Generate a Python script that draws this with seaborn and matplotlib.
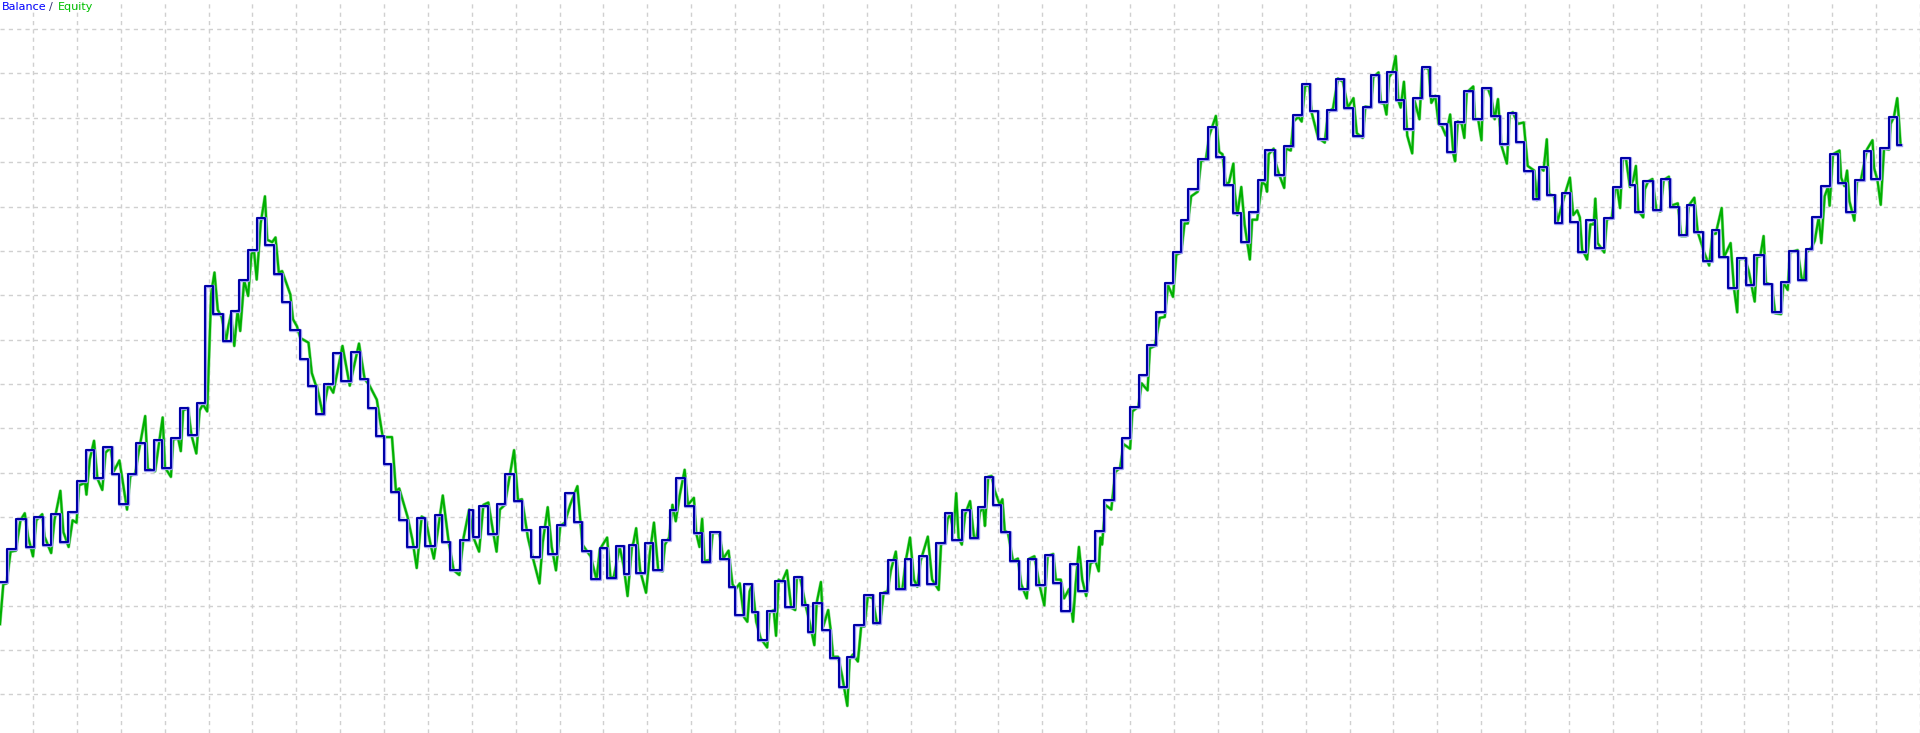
import numpy as np
import pandas as pd
import matplotlib
import matplotlib.pyplot as plt
import seaborn as sns
from matplotlib.transforms import IdentityTransform

# tester graph, units (x: deal axis, y: account value)
bal_x = [0, 22, 50, 78, 103, 130, 155, 183, 207, 232, 260, 286, 312, 338, 362, 388, 413, 440, 468, 492,
         518, 545, 570, 597, 622, 645, 676, 700, 725, 752, 778, 802, 830, 855, 880, 908, 933, 958,
         982, 1010, 1032, 1065, 1090, 1115, 1140, 1165, 1185, 1210, 1235, 1263, 1288, 1317, 1340, 1365,
         1393, 1420, 1435, 1453, 1478, 1505, 1532, 1557, 1582, 1610, 1637, 1660, 1687, 1713, 1740, 1765,
         1790, 1817, 1840, 1868, 1892, 1905,
         1928, 1955, 1980, 2005, 2030, 2050, 2075, 2102, 2127, 2153, 2182, 2208, 2228, 2255, 2280, 2298,
         2325, 2350, 2380, 2405, 2430, 2448, 2465, 2490, 2515, 2542, 2567, 2588, 2620, 2645, 2668, 2690,
         2715, 2742, 2760, 2785, 2810, 2837, 2863,
         2885, 2915, 2940, 2965, 2985, 3008, 3035, 3060, 3088, 3115, 3140, 3167, 3192, 3215, 3242, 3267,
         3295, 3320, 3345, 3375, 3400, 3425, 3452, 3477, 3503, 3530, 3555, 3580, 3602, 3632, 3660, 3685,
         3710, 3737, 3762, 3785, 3813, 3835,
         3865, 3890, 3918, 3945, 3970, 3995, 4023, 4048, 4073, 4102, 4130, 4155, 4180, 4205, 4230, 4255,
         4283, 4310, 4335, 4362, 4385, 4410, 4438, 4465, 4492, 4520, 4545, 4570, 4595, 4620, 4645, 4665,
         4688, 4712, 4733, 4758, 4782,
         4808, 4835, 4862, 4890, 4912, 4940, 4955, 4980, 5010, 5035, 5060, 5088, 5113, 5135, 5162, 5188,
         5210, 5238, 5265, 5293, 5315, 5345, 5370, 5397, 5422, 5450, 5472, 5492, 5518, 5545, 5570, 5595,
         5622, 5648, 5672, 5697, 5725, 5750, 5760]
balance = [323, 393, 458, 398, 463, 403, 468, 408, 473, 538, 606, 546, 611, 553, 490, 553, 620, 563, 626, 566,
           631, 696, 638, 706, 956, 896, 838, 903, 968, 1033, 1101, 1043, 982, 921, 863, 800, 743, 683,
           746, 813, 753, 816, 758, 696, 636, 576, 516, 456, 398, 460, 400, 466, 408, 348,
           412, 478, 420, 485, 425, 490, 555, 496, 435, 376, 440, 383, 446, 513, 452, 390,
           330, 395, 332, 400, 340, 403,
           343, 406, 348, 413, 478, 545, 486, 428, 366, 430, 373, 313, 253, 318, 258, 198,
           262, 326, 270, 333, 273, 215, 278, 220, 160, 98, 163, 230, 296, 236, 300, 370,
           308, 373, 316, 378, 318, 406, 470,
           413, 478, 418, 483, 548, 488, 430, 368, 308, 373, 316, 380, 320, 261, 361, 303,
           368, 433, 498, 566, 630, 698, 765, 830, 900, 963, 1030, 1098, 1163, 1228, 1296, 1233,
           1173, 1113, 1050, 1115, 1183, 1248,
           1193, 1255, 1323, 1388, 1330, 1270, 1333, 1400, 1338, 1278, 1340, 1408, 1350, 1413, 1355, 1293,
           1358, 1425, 1363, 1303, 1243, 1308, 1373, 1313, 1380, 1320, 1260, 1326, 1265, 1203, 1143, 1210,
           1150, 1090, 1156, 1093, 1030,
           1098, 1038, 1102, 1168, 1231, 1173, 1115, 1180, 1118, 1186, 1126, 1066, 1130, 1072, 1010, 1075,
           1018, 951, 1016, 958, 1022, 961, 900, 964, 1031, 970, 1035, 1103, 1170, 1238, 1176, 1115,
           1182, 1246, 1186, 1252, 1318, 1258, 1258]

eq_x = [0, 10, 20, 32, 48, 62, 75, 85, 100, 110, 128, 135, 155, 165, 183, 192, 208, 220, 232, 240,
        258, 262, 272, 285, 295, 310, 320, 335, 345, 362, 385, 395, 410, 420, 440, 448, 470, 482, 493, 500,
        518, 525, 540, 548, 555, 570, 580, 595, 605, 615, 628, 640, 650, 660, 672, 685, 692, 700, 710, 720,
        728, 740, 752, 762, 770, 778, 790, 803, 810, 825, 835, 845, 855, 880, 888, 900, 910, 935, 945, 958,
        960, 978, 995, 1010, 1038, 1060, 1088, 1105, 1120, 1142, 1160, 1188, 1200, 1210, 1235, 1250, 1263,
        1278, 1290, 1305, 1315, 1342, 1360, 1375, 1392, 1405, 1422, 1435, 1452, 1465, 1480, 1495, 1505,
        1515, 1530, 1558, 1570, 1582, 1600, 1610, 1635, 1645, 1660, 1672, 1685, 1698, 1712, 1728, 1750,
        1765, 1780, 1790, 1808, 1818, 1840, 1850, 1860, 1878, 1890, 1902, 1915,
        1920, 1928, 1940, 1958, 1970, 1982, 1995, 2008, 2015, 2028, 2038, 2048, 2060, 2075, 2085, 2103,
        2110, 2120, 2128, 2135, 2152, 2160, 2180, 2192, 2208, 2220, 2230, 2242, 2255, 2265, 2272, 2280,
        2292, 2305, 2325, 2332, 2345, 2352, 2360, 2370, 2385, 2398, 2410, 2415, 2425, 2440, 2455, 2468,
        2475, 2488, 2495, 2510, 2518, 2525, 2540, 2552, 2568, 2575, 2585, 2600, 2610, 2620, 2630, 2645,
        2658, 2668, 2678, 2690, 2700, 2715, 2725, 2735, 2745, 2758, 2770, 2780, 2790, 2812, 2825, 2845,
        2852, 2865, 2872, 2880,
        2890, 2898, 2905, 2915, 2925, 2940, 2952, 2960, 2970, 2980, 2985, 2995, 3005, 3015, 3030, 3038,
        3045, 3055, 3070, 3085, 3095, 3112, 3120, 3135, 3150, 3165, 3175, 3192, 3200, 3215, 3225, 3240,
        3252, 3260, 3270, 3280, 3292, 3305, 3320, 3330, 3335, 3340, 3350, 3368, 3380, 3395, 3405, 3425,
        3432, 3450, 3460, 3478, 3485, 3500, 3515, 3530, 3540, 3555, 3565, 3580, 3590, 3600, 3610, 3630,
        3640, 3655, 3665, 3685, 3695, 3705, 3715, 3725, 3738, 3742, 3750, 3762, 3772, 3788, 3795, 3810,
        3825, 3835, 3840,
        3845, 3860, 3865, 3875, 3892, 3898, 3912, 3920, 3935, 3945, 3955, 3968, 3975, 3995, 4015, 4025,
        4040, 4055, 4070, 4085, 4102, 4112, 4130, 4138, 4155, 4162, 4178, 4185, 4195, 4202, 4210, 4220,
        4230, 4238, 4245, 4255, 4265, 4280, 4287, 4302, 4310, 4320, 4330, 4338, 4350, 4360, 4370, 4382,
        4395, 4405, 4410, 4418, 4430, 4438, 4445, 4465, 4470, 4480, 4490, 4495, 4510, 4520, 4530, 4540,
        4550, 4567, 4575, 4585, 4600, 4618, 4630, 4650, 4658, 4668, 4678, 4688, 4695, 4710, 4720, 4745,
        4758, 4768, 4780, 4788, 4795,
        4800, 4810, 4820, 4830, 4835, 4842, 4862, 4870, 4885, 4895, 4902, 4910, 4918, 4928, 4940, 4950,
        4958, 4965, 4980, 4985, 4995, 5008, 5020, 5032, 5042, 5058, 5065, 5085, 5095, 5110, 5118, 5135,
        5145, 5165, 5180, 5190, 5200, 5218, 5225, 5245, 5255, 5265, 5270, 5288, 5300, 5318, 5325, 5335,
        5345, 5352, 5370, 5380, 5398, 5405, 5418, 5425, 5448, 5460, 5468, 5475, 5490, 5500, 5512, 5520,
        5530, 5540, 5545, 5555, 5575, 5580, 5590, 5598, 5605, 5620, 5628, 5640, 5658, 5675, 5680, 5690,
        5700, 5710, 5725, 5730, 5740, 5750, 5755, 5760]
equity = [233, 318, 320, 388, 390, 455, 470, 420, 378, 455, 468, 420, 385, 455, 518, 430, 398, 455, 450, 530,
          535, 510, 585, 625, 545, 520, 600, 610, 560, 583, 478, 550, 555, 600, 678, 565, 560, 620, 675, 568,
          548, 628, 630, 603, 690, 695, 638, 598, 690, 703, 688, 940, 985, 905, 890, 838, 870, 895, 828, 903,
          860, 968, 935, 1025, 1030, 970, 1090, 1148, 1055, 1050, 1060, 985, 988, 938, 885, 870, 845, 835, 770, 742,
          743, 683, 746, 728, 828, 743, 833, 758, 743, 713, 633, 633, 518, 523, 463, 413, 353,
          463, 458, 403, 373, 508, 408, 348, 338, 418, 478, 418, 388, 488, 493, 428, 388,
          478, 488, 605, 498, 500, 418, 388, 320, 408, 483, 398, 348, 443, 450, 488, 528,
          403, 388, 378, 328, 393, 418, 333, 333, 398, 358, 293, 398,
          408, 438, 348, 300, 388, 450, 348, 346, 403, 418, 488, 453, 508, 563, 488, 503,
          428, 398, 458, 368, 370, 428, 428, 373, 390, 318, 308, 320, 248, 238, 303, 318,
          238, 203, 183, 258, 263, 208, 328, 323, 348, 268, 263, 333, 333, 278, 233, 188,
          278, 323, 228, 263, 218, 163, 163, 123, 58, 158, 168, 153, 228, 228, 293, 288,
          233, 238, 300, 303, 348, 388, 308, 308, 368, 418, 328, 313, 368, 420, 328, 306,
          403, 408, 458, 468,
          428, 513, 418, 403, 468, 496, 418, 418, 473, 483, 443, 548, 550, 518, 488, 500,
          433, 428, 368, 373, 318, 288, 373, 378, 318, 273, 378, 383, 328, 328, 288, 308,
          238, 318, 398, 328, 293, 363, 368, 346, 418, 403, 488, 478, 558, 568, 618, 608,
          688, 698, 748, 733, 823, 828, 888, 890, 958, 933, 1023, 1028, 1090, 1090, 1148, 1158,
          1223, 1228, 1278, 1320, 1243, 1238, 1173, 1178, 1218, 1158, 1108, 1168, 1088, 1013, 1098, 1098,
          1178, 1173, 1158,
          1238, 1250, 1223, 1198, 1166, 1250, 1246, 1308, 1318, 1308, 1383, 1386, 1328, 1273, 1263, 1328,
          1336, 1400, 1393, 1338, 1358, 1283, 1273, 1340, 1338, 1403, 1413, 1348, 1346, 1323, 1403, 1413,
          1448, 1353, 1338, 1393, 1278, 1240, 1353, 1313, 1418, 1423, 1420, 1348, 1363, 1303, 1298, 1278,
          1323, 1238, 1223, 1308, 1303, 1273, 1370, 1383, 1313, 1313, 1268, 1378, 1378, 1358, 1313, 1356,
          1258, 1218, 1323, 1328, 1303, 1306, 1213, 1203, 1140, 1210, 1203, 1270, 1153, 1148, 1093, 1158,
          1188, 1108, 1118, 1103, 1033,
          1028, 1013, 1088, 1088, 1143, 1048, 1028, 1098, 1103, 1163, 1163, 1123, 1228, 1228, 1168, 1183,
          1213, 1118, 1103, 1163, 1180, 1185, 1118, 1116, 1183, 1190, 1128, 1133, 1063, 1063, 1128, 1145,
          1073, 1028, 1000, 1068, 1068, 1123, 1018, 1048, 953, 900, 1013, 1016, 988, 923, 1018, 1020,
          1063, 963, 958, 898, 896, 963, 948, 1028, 1033, 973, 970, 1028, 1038, 1053, 1103, 1048,
          1148, 1168, 1128, 1238, 1246, 1188, 1170, 1203, 1138, 1096, 1180, 1183, 1248, 1268, 1208, 1183,
          1130, 1250, 1248, 1303, 1318, 1358, 1313, 1258]

balance_df = pd.DataFrame({'deal': bal_x, 'value': balance})
equity_df = pd.DataFrame({'deal': eq_x, 'value': equity})

fig = plt.figure(figsize=(19.2, 7.33), dpi=100)
ax = fig.add_axes([0, 0, 1, 1])
ax.set_facecolor('white')

sns.lineplot(data=equity_df, x='deal', y='value', color='#8fdc8f', lw=2.3,
             estimator=None, sort=False, ax=ax)
sns.lineplot(data=equity_df, x='deal', y='value', color='#00b000', lw=1.5,
             estimator=None, sort=False, ax=ax)
sns.lineplot(data=balance_df, x='deal', y='value', color='#9a9af0', lw=2.4,
             drawstyle='steps-post', estimator=None, sort=False, ax=ax)
sns.lineplot(data=balance_df, x='deal', y='value', color='#0000a8', lw=1.45,
             drawstyle='steps-post', estimator=None, sort=False, ax=ax)

ax.set_xlim(0, 5760)
ax.set_ylim(0, 1568)
ax.set_xticks(100 + 133.0 * np.arange(0, 44))
ax.set_yticks(82.6 + 94.87 * np.arange(0, 16))
ax.grid(True, color='#d0d0d0', lw=1, ls=(0, (3, 3)))
ax.set_axisbelow(True)
ax.tick_params(length=0, labelbottom=False, labelleft=False)
ax.set_xlabel('')
ax.set_ylabel('')
for s in ax.spines.values():
    s.set_visible(False)

# legend text in the top left corner, kept inside the picture
tr = IdentityTransform()
fig.text(2, 723, 'Balance', color='#0000ff', fontsize=8, transform=tr, va='baseline')
fig.text(49, 723, '/', color='#303070', fontsize=8, transform=tr, va='baseline')
fig.text(58, 723, 'Equity', color='#00c000', fontsize=8, transform=tr, va='baseline')

fig.savefig('out.png', dpi=100, facecolor='white')
